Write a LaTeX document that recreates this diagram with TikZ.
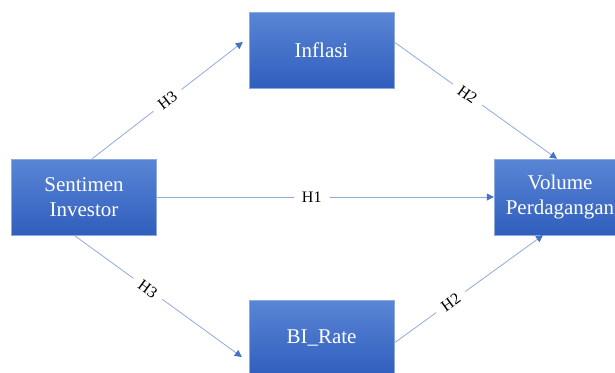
\documentclass[tikz,border=0pt]{standalone}
\usepackage{fontspec}
\setmainfont{Liberation Serif}
\usetikzlibrary{positioning}
\usetikzlibrary{arrows.meta}
\usepackage{xcolor}

\definecolor{boxtop}{HTML}{5A86D6}
\definecolor{boxbot}{HTML}{2F5EBD}
\definecolor{boxline}{HTML}{8EA9DB}
\definecolor{linkblue}{HTML}{8FAADC}
\definecolor{tipblue}{HTML}{4472C4}

\tikzset{
  varbox/.style={rectangle, top color=boxtop, bottom color=boxbot, draw=boxline, line width=0.4pt,
    minimum width=145pt, minimum height=76pt, inner sep=0pt, align=center,
    text=white, font=\fontsize{21}{25}\selectfont},
  link/.style={draw=linkblue, line width=0.8pt, -{Triangle[length=7pt,width=7pt,color=tipblue]}},
  hyp/.style={fill=white, sloped, inner xsep=8pt, inner ysep=0pt, font=\fontsize{16}{18}\selectfont}
}

\begin{document}
\begin{tikzpicture}[x=1pt, y=-1pt]
\clip (0,0) rectangle (615,372);
\fill[white] (0,0) rectangle (615,372);

%%%%%%%%%% Variables %%%%%%%%
{
\node[varbox] (sent) at (84,197) {Sentimen\\Investor};
\node[varbox] (infl) at (321.5,50) {Inflasi};
\node[varbox] (birate) at (321.5,338) {BI\_Rate};
\node[varbox, minimum width=132pt] (vol) at (560,197) {Volume\\Perdagangan};
}

%%%%%%%%%%%%     Hypotheses   %%%%%%%%%%%%
{
\draw[link] ([xshift=8pt]sent.north) -- ([xshift=-6pt, yshift=8pt]infl.west) node[hyp, pos=0.5] {H3};
\draw[link] ([yshift=8pt]infl.east) -- ([xshift=-3pt]vol.north) node[hyp, pos=0.45] {H2};

\draw[link] (sent.east) -- (vol.west) node[hyp, pos=0.46] {H1};

\draw[link] ([xshift=-10pt]sent.south) -- ([xshift=-7pt, yshift=-19pt]birate.west) node[hyp, pos=0.44] {H3};
\draw[link] ([yshift=-5pt]birate.east) -- ([xshift=-17pt]vol.south) node[hyp, pos=0.38] {H2};
}

\end{tikzpicture}
\end{document}
